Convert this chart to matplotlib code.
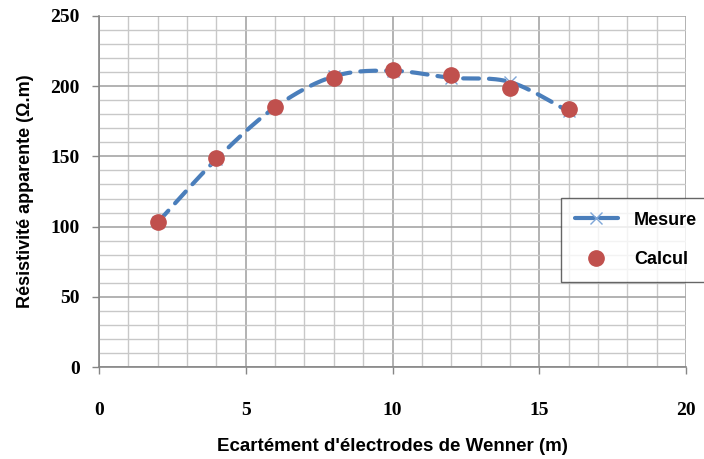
import numpy as np
import matplotlib
matplotlib.use("Agg")
import matplotlib.pyplot as plt
from matplotlib.lines import Line2D

x_vals = [2, 4, 6, 8, 10, 12, 14, 16]
mesure = [103, 148, 185, 207, 211, 206, 203, 182]
calcul = [103, 149, 185, 206, 211.5, 208, 199, 184]

x_label = "Ecartément d'électrodes de Wenner (m)"
y_label = "Résistivité apparente (Ω.m)"

def smooth(xs, ys, n=30):
    # Excel-like smoothed line (Catmull-Rom / cubic Bezier through points)
    xs = np.asarray(xs, float); ys = np.asarray(ys, float)
    P = np.column_stack([xs, ys])
    out = []
    for i in range(len(P) - 1):
        p0 = P[i - 1] if i > 0 else P[i]
        p1 = P[i]; p2 = P[i + 1]
        p3 = P[i + 2] if i + 2 < len(P) else P[i + 1]
        c1 = p1 + (p2 - p0) / 6.0
        c2 = p2 - (p3 - p1) / 6.0
        t = np.linspace(0, 1, n)[:, None]
        seg = ((1 - t) ** 3) * p1 + 3 * ((1 - t) ** 2) * t * c1 + 3 * (1 - t) * t ** 2 * c2 + t ** 3 * p2
        out.append(seg if i == 0 else seg[1:])
    S = np.vstack(out)
    return S[:, 0], S[:, 1]

label_font = ['Liberation Sans', 'DejaVu Sans']
tick_font = ['Liberation Serif', 'DejaVu Serif']

fig = plt.figure(figsize=(7.04, 4.59), dpi=100)
ax = fig.add_axes([99/704, 1 - 367/459, (686 - 99)/704, (367 - 16)/459])

blue = '#4A7EBB'
red = '#C0504D'

sx, sy = smooth(x_vals, mesure)
ax.plot(sx, sy, color=blue, lw=3.0, ls=(0, (3.8, 2.4)), dash_capstyle='round', zorder=3)
ax.plot(x_vals, mesure, ls='none', marker='x', color='#7EA6D8', ms=8, mew=1, zorder=3)
ax.plot(x_vals, calcul, ls='none', marker='o', color=red, ms=11, zorder=4)

ax.set_xlim(0, 20)
ax.set_ylim(0, 250)
xt = np.arange(0, 21, 5)
yt = np.arange(0, 251, 50)
ax.set_xticks(xt)
ax.set_yticks(yt)
ax.set_xticklabels([str(v) for v in xt], family=tick_font, fontweight='bold', fontsize=14)
ax.set_yticklabels([str(v) for v in yt], family=tick_font, fontweight='bold', fontsize=14)
ax.set_xticks(np.arange(0, 21, 1), minor=True)
ax.set_yticks(np.arange(0, 251, 10), minor=True)
ax.grid(which='major', color='#A6A6A6', lw=1.2)
ax.grid(which='minor', color='#C8C8C8', lw=1.0)
ax.set_axisbelow(True)
ax.tick_params(which='minor', length=0)
ax.tick_params(which='major', length=5, color='#868686', width=1)
ax.tick_params(axis='x', pad=20)
ax.tick_params(axis='y', pad=9)
for s in ['top', 'right']:
    ax.spines[s].set_visible(False)
for s in ['left', 'bottom']:
    ax.spines[s].set_color('#868686')
    ax.spines[s].set_linewidth(1.2)

ax.set_xlabel(x_label, fontsize=13.5, fontweight='bold', family=label_font, labelpad=14)
ax.set_ylabel(y_label, fontsize=13, fontweight='bold', family=label_font, labelpad=12)

handles = [
    Line2D([0], [0], color=blue, lw=3, ls=(0, (4.6, 1.4)), dash_capstyle='round',
           marker='x', mec='#7EA6D8', ms=8),
    Line2D([0], [0], ls='none', marker='o', color=red, ms=11),
]
leg = fig.legend(handles, ['Mesure', 'Calcul'], loc='upper left',
                 bbox_to_anchor=(561/704, 1 - 198/459), frameon=True, fancybox=False,
                 prop={'family': label_font, 'weight': 'bold', 'size': 13},
                 handlelength=2.4, labelspacing=1.25, borderpad=0.75, handletextpad=0.9,
                 borderaxespad=0)
leg.get_frame().set_edgecolor('#404040')
leg.get_frame().set_linewidth(1)

fig.savefig('out.png', dpi=100)
